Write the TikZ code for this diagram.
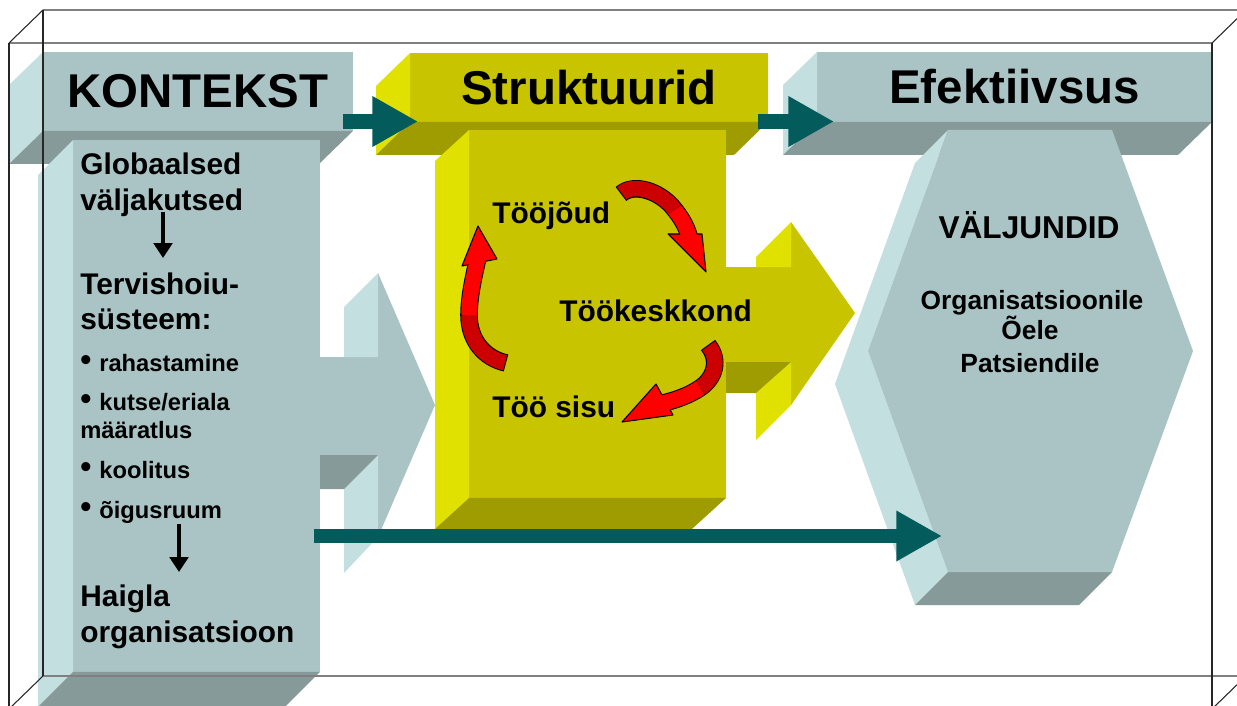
\documentclass[tikz,border=0pt]{standalone}
\usepackage{fontspec}
\setmainfont{Liberation Sans}
\usetikzlibrary{arrows.meta}
\definecolor{bluegray}{HTML}{AAC4C5}
\definecolor{bluelight}{HTML}{C4DFE0}
\definecolor{bluedark}{HTML}{869A99}
\definecolor{yface}{HTML}{C8C400}
\definecolor{ylight}{HTML}{E1E100}
\definecolor{ydark}{HTML}{9E9C00}
\definecolor{arrowteal}{HTML}{045B5B}
\definecolor{redlight}{HTML}{FF0000}
\definecolor{reddark}{HTML}{CC0000}
\newcommand\itembul{\makebox[10.8pt][l]{\fontsize{18}{18}\selectfont\raisebox{0.5pt}{•}}}

\begin{document}
\begin{tikzpicture}[x=0.02cm,y=-0.02cm,
  bar/.style={inner sep=0, outer sep=0, font=\fontsize{27}{32}\selectfont\bfseries},
  col/.style={inner sep=0, outer sep=0},
  big/.style={inner sep=0, anchor=base west, font=\fontsize{17}{20}\selectfont\bfseries},
  small/.style={inner sep=0, anchor=base west, font=\fontsize{13.5}{16}\selectfont\bfseries},
  hextext/.style={inner sep=0, anchor=base, font=\fontsize{15}{18}\selectfont\bfseries},
  rib out/.style={draw=black, line width=10pt},
  rib dark/.style={draw=reddark, line width=8.8pt, shorten <=0.6pt},
  rib light/.style={draw=redlight, line width=8.8pt},
  rib head/.style={fill=redlight, draw=black, line width=0.6pt, line join=round},
  downarr/.style={line width=2.3pt, -{Triangle[length=8.5pt,width=10.5pt]}},
  tealarr/.style={draw=arrowteal, line width=8.5pt, -{Triangle[length=26pt,width=27pt]}},
  frame/.style={line width=0.6pt, draw=black!85},
  frametop/.style={line width=0.8pt, draw=black!50}]
  \clip (0,0) rectangle (1237,706);
  \fill[white] (0,0) rectangle (1237,706);

  \node[bar, fill=bluegray, minimum width=6.2cm, minimum height=1.58cm] (kontekst) at (198,91.5) {KONTEKST};
  \node[bar, fill=yface, minimum width=7.16cm, minimum height=1.38cm] (struktuurid) at (589,87.5) {Struktuurid};
  \node[bar, fill=bluegray, minimum width=7.9cm, minimum height=1.4cm] (efektiivsus) at (1014.5,87) {Efektiivsus};
  \foreach \n/\lt/\dk in {kontekst/bluelight/bluedark, struktuurid/ylight/ydark, efektiivsus/bluelight/bluedark}{
    \fill[\lt] (\n.north west) -- ++(-34,33) -- ([shift={(-34,33)}]\n.south west) -- (\n.south west) -- cycle;
    \fill[\dk] (\n.south west) -- (\n.south east) -- ++(-34,33) -- ([shift={(-34,33)}]\n.south west) -- cycle;
  }

  \fill[bluegray] (320,357) -- (378,357) -- (378,273) -- (435,405) -- (378,537) -- (378,455) -- (320,455) -- cycle;
  \fill[bluelight] (378,273) -- (344,307) -- (344,357) -- (378,357) -- cycle;
  \fill[bluelight] (378,455) -- (378,537) -- (344,573) -- (344,489) -- cycle;
  \fill[bluedark] (320,455) -- (378,455) -- (344,489) -- (320,489) -- cycle;

  \fill[yface] (726,267) -- (791,267) -- (791,222) -- (855,313) -- (791,405) -- (791,362) -- (726,362) -- cycle;
  \fill[ylight] (791,222) -- (756,257) -- (756,267) -- (791,267) -- cycle;
  \fill[ylight] (791,362) -- (791,405) -- (756,440) -- (756,393) -- cycle;
  \fill[ydark] (726,362) -- (791,362) -- (756,393) -- (726,393) -- cycle;

  \node[col, fill=bluegray, minimum width=4.94cm, minimum height=10.64cm] (kcol) at (196.5,406) {};
  \node[col, fill=yface, minimum width=5.14cm, minimum height=7.36cm] (scol) at (597.5,314) {};
  \foreach \n/\lt/\dk/\dx/\dy in {kcol/bluelight/bluedark/-35/35, scol/ylight/ydark/-34/31}{
    \fill[\lt] (\n.north west) -- ++(\dx,\dy) -- ([shift={(\dx,\dy)}]\n.south west) -- (\n.south west) -- cycle;
    \fill[\dk] (\n.south west) -- (\n.south east) -- ++(\dx,\dy) -- ([shift={(\dx,\dy)}]\n.south west) -- cycle;
  }

  \fill[bluelight] (948,130) -- (868,351) -- (948,572) -- (915,605) -- (835,384) -- (915,163) -- cycle;
  \fill[bluedark] (948,572) -- (1112,572) -- (1079,605) -- (915,605) -- cycle;
  \fill[bluegray] (948,130) -- (1112,130) -- (1193,351) -- (1112,572) -- (948,572) -- (868,351) -- cycle;
  \coordinate (hexin) at (942,536);

  \node[big] (glob) at (80,174) {Globaalsed};
  \node[big] (valj) at (80,210) {väljakutsed};
  \node[big] (terv) at (80,294) {Tervishoiu-};
  \node[big] (syst) at (80,329) {süsteem:};
  \node[small] (rah) at (80,371) {\itembul rahastamine};
  \node[small] (kutse) at (80,410) {\itembul kutse/eriala};
  \node[small] (maar) at (80,438) {määratlus};
  \node[small] (kool) at (80,478) {\itembul koolitus};
  \node[small] (oigus) at (80,518) {\itembul õigusruum};
  \node[big] (haigla) at (80,606) {Haigla};
  \node[big] (org) at (80,642) {organisatsioon};
  \coordinate (d1a) at (163,212); \coordinate (d1b) at (163,258);
  \coordinate (d2a) at (179,524); \coordinate (d2b) at (179,572);
  \draw[downarr] (d1a) -- (d1b);
  \draw[downarr] (d2a) -- (d2b);

  \node[big] (joud) at (492,223) {Tööjõud};
  \node[big] (keskkond) at (559,321) {Töökeskkond};
  \node[big] (sisu) at (492,417) {Töö sisu};

  \draw[rib out] (621,194) .. controls (633,183) and (660,190) .. (675,210) .. controls (683,220) and (688,230) .. (690,240);
  \filldraw[rib head] (668,234) -- (706,272) -- (702,234) -- cycle;
  \draw[rib dark] (621,194) .. controls (633,183) and (660,190) .. (675,210);
  \draw[rib light] (675,210) .. controls (683,220) and (688,230) .. (690,240);

  \draw[rib out] (506,363) .. controls (484,358) and (469,340) .. (469,315) .. controls (469,295) and (475,271) .. (479,253);
  \filldraw[rib head] (462,266) -- (478,226) -- (497,259) -- cycle;
  \draw[rib dark] (506,363) .. controls (484,358) and (469,340) .. (469,315);
  \draw[rib light] (469,315) .. controls (469,295) and (475,271) .. (479,253);

  \draw[rib out] (708,345) .. controls (720,360) and (715,378) .. (700,388) .. controls (690,395) and (672,402) .. (657,404);
  \filldraw[rib head] (656,384) -- (622,422) -- (673,415) -- cycle;
  \draw[rib dark] (708,345) .. controls (720,360) and (715,378) .. (700,388);
  \draw[rib light] (700,388) .. controls (690,395) and (672,402) .. (657,404);

  \node[inner sep=0, anchor=base, font=\fontsize{18}{21}\selectfont\bfseries] (valjundid) at (1029,238) {VÄLJUNDID};
  \node[hextext] (orgle) at (1032,309) {Organisatsioonile};
  \node[hextext] (oele) at (1030,339) {Õele};
  \node[hextext] (pats) at (1030,372) {Patsiendile};

  \draw[tealarr] ([shift={(-10,30)}]kontekst.east) -- ([shift={(8,34)}]struktuurid.west);
  \draw[tealarr] ([shift={(-10,34)}]struktuurid.east) -- ([shift={(17,34.5)}]efektiivsus.west);
  \draw[tealarr] ([shift={(-6,130)}]kcol.east) -- (hexin);

  \draw[frametop] (43,10) -- (1246,10);
  \draw[frametop] (9,43) -- (1212,43);
  \draw[frametop] (43,676) -- (1246,676);
  \draw[frame] (43,10) -- (43,676);
  \draw[frame] (9,43) -- (9,710);
  \draw[frame] (1212,43) -- (1212,710);
  \draw[frame] (9,43) -- (43,10);
  \draw[frame] (1212,43) -- (1246,10);
  \draw[frame] (9,709) -- (43,676);
  \draw[frame] (1212,709) -- (1246,676);
\end{tikzpicture}
\end{document}
